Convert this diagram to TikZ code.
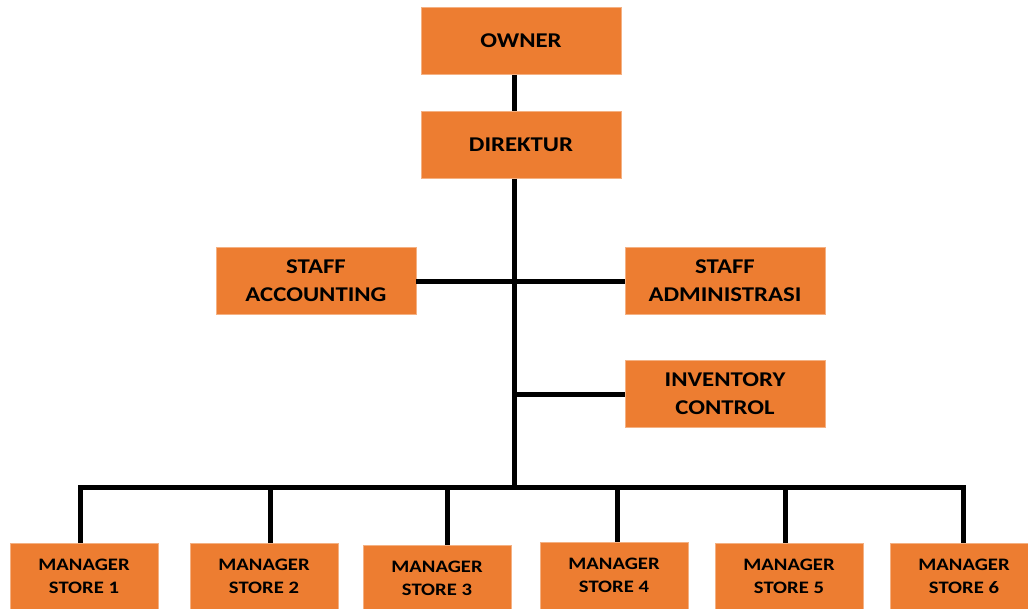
\documentclass[tikz,border=0pt]{standalone}
\usepackage{fontspec}
\setmainfont{Carlito}
\newfontfamily\orgfont[FakeStretch=1.18]{Carlito}
\definecolor{boxorange}{HTML}{ED7D31}
\tikzset{
  unit/.style={fill=boxorange, draw=boxorange!60!white, line width=0.6pt, minimum width=200pt, minimum height=67pt,
    align=center, inner sep=0pt, font=\orgfont\fontsize{21}{28}\selectfont\bfseries},
  store/.style={unit, minimum width=148pt, font=\orgfont\fontsize{17.5}{23}\selectfont\bfseries},
  link/.style={black, line width=5pt}
}
\begin{document}
\begin{tikzpicture}[x=1pt, y=-1pt]
        \useasboundingbox (0,0) rectangle (1028,608);

        \node[unit] (owner) at (521,41) {OWNER};
        \node[unit] (direktur) at (521,145) {DIREKTUR};
        \node[unit] (accounting) at (316,281) {STAFF\\ACCOUNTING};
        \node[unit] (administrasi) at (725,281) {STAFF\\ADMINISTRASI};
        \node[unit] (inventory) at (725,394) {INVENTORY\\CONTROL};

        \node[store] (store1) at (84,576.5) {MANAGER\\STORE 1};
        \node[store] (store2) at (264,576.5) {MANAGER\\STORE 2};
        \node[store] (store3) at (437,578.5) {MANAGER\\STORE 3};
        \node[store] (store4) at (614,575.5) {MANAGER\\STORE 4};
        \node[store] (store5) at (789,576.5) {MANAGER\\STORE 5};
        \node[store] (store6) at (964,576.5) {MANAGER\\STORE 6};

        % trunk and bus
        \coordinate (trunk) at (514,487);
        \draw[link] (owner.south -| trunk) -- (direktur.north -| trunk);
        \draw[link] (direktur.south -| trunk) -- (trunk);
        \draw[link] (accounting.east) -- (administrasi.west);
        \draw[link] (inventory.west -| trunk) -- (inventory.west);

        \coordinate (drop1) at (80,487);
        \coordinate (drop2) at (270,487);
        \coordinate (drop3) at (447,487);
        \coordinate (drop4) at (617,487);
        \coordinate (drop5) at (785,487);
        \coordinate (drop6) at (963,487);
        \draw[link, line join=miter] (drop1 |- store1.north) -- (drop1) -- (drop6) -- (drop6 |- store6.north);
        \draw[link] (drop2) -- (drop2 |- store2.north);
        \draw[link] (drop3) -- (drop3 |- store3.north);
        \draw[link] (drop4) -- (drop4 |- store4.north);
        \draw[link] (drop5) -- (drop5 |- store5.north);
    \end{tikzpicture}
\end{document}
